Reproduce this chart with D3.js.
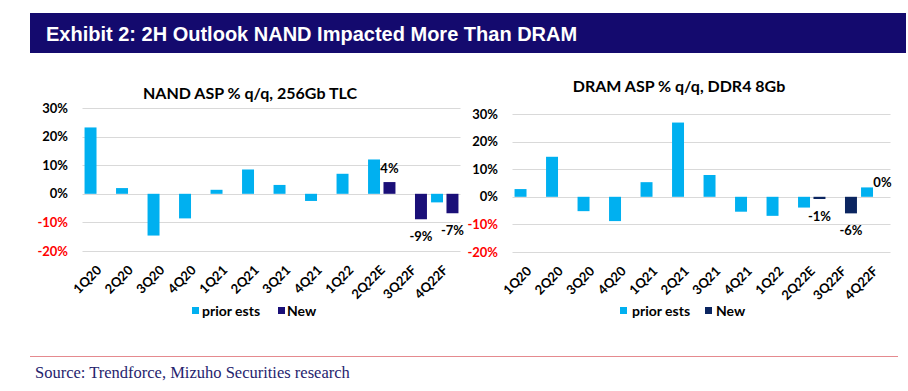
<!DOCTYPE html>
<html>
<head>
<meta charset="utf-8">
<script src="https://cdn.jsdelivr.net/npm/d3@7"></script>
<style>
  html, body { margin: 0; padding: 0; background: #fff; }
  svg { display: block; }
</style>
</head>
<body>
<svg id="chart" width="908" height="391"></svg>
<script>
// ---------- data ----------
const categories = ["1Q20","2Q20","3Q20","4Q20","1Q21","2Q21","3Q21","4Q21","1Q22","2Q22E","3Q22F","4Q22F"];
const seriesNames = ["prior ests", "New"];
const yTicks = [-20, -10, 0, 10, 20, 30];

const nandPrior = [23.2, 2.0, -14.6, -8.6, 1.4, 8.5, 3.1, -2.5, 7.0, 12.0, null, -3.0];
const nandNew   = [null, null, null, null, null, null, null, null, null, 4.1, -8.9, -6.8];

const dramPrior = [2.8, 14.5, -5.2, -8.8, 5.3, 26.9, 7.9, -5.4, -6.9, -3.9, null, 3.4];
const dramNew   = [null, null, null, null, null, null, null, null, null, -0.8, -6.0, 0.0];

const headerTitle = "Exhibit 2: 2H Outlook NAND Impacted More Than DRAM";
const sourceText = "Source: Trendforce, Mizuho Securities research";

// ---------- drawing ----------
const svg = d3.select("#chart");
const FONT = "Lato, 'Liberation Sans', Arial, sans-serif";
const PRIOR_COLOR = "#00B0F0";

// header bar
svg.append("rect").attr("x", 30).attr("y", 13).attr("width", 876).attr("height", 40).attr("fill", "#140A6E");
svg.append("text").attr("x", 46).attr("y", 41)
  .attr("font-family", "'Liberation Sans', Arial, sans-serif").attr("font-weight", "bold")
  .attr("font-size", 20).attr("fill", "#fff").text(headerTitle);

// source
svg.append("line").attr("x1", 30).attr("x2", 898).attr("y1", 356.5).attr("y2", 356.5)
  .attr("stroke", "#E58A8F").attr("stroke-width", 1);
svg.append("text").attr("x", 35).attr("y", 378)
  .attr("font-family", "'Liberation Serif', 'Times New Roman', serif")
  .attr("font-size", 16.5).attr("fill", "#26246E").text(sourceText);

function drawChart(cfg) {
  const g = svg.append("g");
  const x = d3.scaleBand().domain(categories).range([cfg.x0, cfg.x1]).paddingInner(0).paddingOuter(0);
  const y = d3.scaleLinear().domain([-20, 30]).range([cfg.yBottom, cfg.yTop]);
  const bw = x.bandwidth();
  const barW = bw * 0.38;
  const step = bw * 0.49;
  const off = (bw - step - barW) / 2;

  // title
  g.append("text").attr("x", cfg.titleX).attr("y", cfg.titleY).attr("text-anchor", "middle")
    .attr("font-family", FONT).attr("font-weight", "bold").attr("font-size", 16)
    .attr("fill", "#000").text(cfg.title);

  // gridlines
  g.selectAll("line.grid").data(yTicks).enter().append("line")
    .attr("x1", cfg.x0).attr("x2", cfg.x1)
    .attr("y1", d => Math.round(y(d)) + 0.5).attr("y2", d => Math.round(y(d)) + 0.5)
    .attr("stroke", "#D9D9D9").attr("stroke-width", 1);

  // y axis labels
  const yAxis = d3.axisLeft(y).tickValues(yTicks).tickFormat(d => d + "%").tickSize(0).tickPadding(0);
  const ya = g.append("g").attr("transform", `translate(${cfg.yLabelX},0)`).call(yAxis);
  ya.select(".domain").remove();
  ya.selectAll("text").attr("font-family", FONT).attr("font-weight", "bold").attr("font-size", 13)
    .attr("fill", d => d < 0 ? "#FF0000" : "#000");

  // bars
  const prior = categories.map((c, i) => ({c, v: cfg.prior[i]})).filter(d => d.v !== null);
  const nw = categories.map((c, i) => ({c, v: cfg.newVals[i]})).filter(d => d.v !== null);

  g.selectAll("rect.prior").data(prior).enter().append("rect")
    .attr("x", d => x(d.c) + off).attr("width", barW)
    .attr("y", d => y(Math.max(0, d.v))).attr("height", d => Math.abs(y(d.v) - y(0)))
    .attr("fill", PRIOR_COLOR);

  g.selectAll("rect.new").data(nw).enter().append("rect")
    .attr("x", d => x(d.c) + off + step).attr("width", barW)
    .attr("y", d => y(Math.max(0, d.v))).attr("height", d => Math.abs(y(d.v) - y(0)))
    .attr("fill", cfg.newColor);

  // data labels for New
  g.selectAll("text.lbl").data(nw).enter().append("text")
    .attr("x", d => x(d.c) + off + step + barW / 2)
    .attr("y", d => d.v >= 0 ? y(d.v) - 9.5 : y(d.v) + 22)
    .attr("text-anchor", "middle")
    .attr("font-family", FONT).attr("font-weight", "bold").attr("font-size", 13).attr("fill", "#000")
    .text(d => Math.round(d.v) + "%");

  // x axis labels (rotated)
  const xAxis = d3.axisBottom(x).tickSize(0).tickPadding(0);
  const xa = g.append("g").attr("transform", `translate(0,${cfg.yBottom + 20})`).call(xAxis);
  xa.select(".domain").remove();
  xa.selectAll("text")
    .attr("font-family", FONT).attr("font-weight", "bold").attr("font-size", 13).attr("fill", "#000")
    .attr("text-anchor", "end").attr("dy", 0).attr("y", 0)
    .attr("transform", "translate(4,0) rotate(-45)");

  // legend
  const leg = g.append("g");
  const items = [
    {name: seriesNames[0], color: PRIOR_COLOR, sx: cfg.legX[0], tx: cfg.legX[1]},
    {name: seriesNames[1], color: cfg.newColor, sx: cfg.legX[2], tx: cfg.legX[3]}
  ];
  items.forEach(it => {
    leg.append("rect").attr("x", it.sx).attr("y", 307).attr("width", 7).attr("height", 7).attr("fill", it.color);
    leg.append("text").attr("x", it.tx).attr("y", 315.5)
      .attr("font-family", FONT).attr("font-weight", "bold").attr("font-size", 14).attr("fill", "#000")
      .text(it.name);
  });
}

drawChart({
  title: "NAND ASP % q/q, 256Gb TLC", titleX: 250, titleY: 99,
  x0: 82.5, x1: 460.5, yTop: 108, yBottom: 251, yLabelX: 68,
  prior: nandPrior, newVals: nandNew, newColor: "#1A0F78",
  legX: [192, 202, 278, 287]
});

drawChart({
  title: "DRAM ASP % q/q, DDR4 8Gb", titleX: 679, titleY: 92,
  x0: 512.5, x1: 890.5, yTop: 114, yBottom: 252, yLabelX: 498,
  prior: dramPrior, newVals: dramNew, newColor: "#0B2560",
  legX: [620, 632, 705, 716]
});
</script>
</body>
</html>
